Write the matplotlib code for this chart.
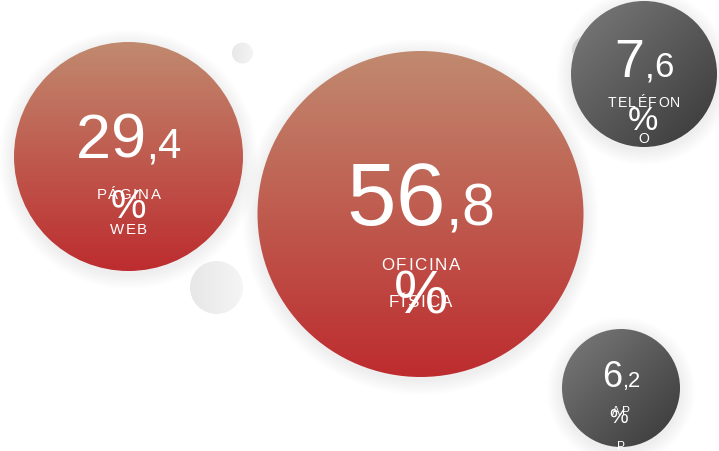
import numpy as np
import matplotlib
matplotlib.use("Agg")
import matplotlib.pyplot as plt
from matplotlib.patches import Circle
from matplotlib import font_manager
from matplotlib.ft2font import FT2Font

# datos
canales = ["PÁGINA WEB", "OFICINA FÍSICA", "TELÉFONO", "APP"]
porcentajes = [29.4, 56.8, 7.6, 6.2]
# como se parte la etiqueta dentro de cada burbuja
lineas = [["PÁGINA", "WEB"], ["OFICINA", "FÍSICA"], ["TELÉFON", "O"], ["AP", "P"]]

# disposicion (pixeles)
centros = [(128.5, 156.5), (420.5, 214), (644, 74), (621, 388)]
radios = [114.5, 163, 73, 59]
tipo = ["rojo", "rojo", "gris", "gris"]
px_entero = [63, 89, 54, 36]
px_decimal = [42, 59, 35, 22]
px_etiqueta = [15, 17, 14, 12]
px_pct = [40, 61, 34, 21]
# baselines relativas al centro: numero, linea1, linea2, %
dy_num = [1.5, 11, 3, -1]
dy_l1 = [42.5, 56, 33, 27]
dy_l2 = [77.5, 93, 69, 62]
dy_pct = [61.5, 99, 56, 35]
dx_pct = [0, 0.5, -1, -2]

decor = [(242.5, 53, 10.5), (216.5, 287.5, 26.5), (586, 50, 14)]

FUENTE = "Liberation Sans"
ft = FT2Font(font_manager.findfont(font_manager.FontProperties(family=FUENTE)))


def avances(txt, px):
    ft.set_size(px, 72)
    return [ft.load_char(ord(c)).linearHoriAdvance / 65536 for c in txt]


def texto_espaciado(ax, cx, y, partes, espacio=0.0):
    # partes: lista de (texto, px); se dibuja letra a letra
    letras = []
    for txt, px in partes:
        for c, a in zip(txt, avances(txt, px)):
            letras.append((c, px, a + espacio * px))
    total = sum(l[2] for l in letras) - (espacio * letras[-1][1] if espacio else 0)
    x = cx - total / 2
    for c, px, a in letras:
        adv = a - espacio * px
        ax.text(x + adv / 2, y, c, fontsize=px * 0.72, family=FUENTE,
                color="white", ha="center", va="baseline", zorder=5)
        x += a


def hex2rgb(h):
    return np.array([int(h[i:i + 2], 16) for i in (1, 3, 5)]) / 255


def gradiente(ax, cx, cy, r, c1, c2, modo, z):
    n = 256
    t = np.linspace(0, 1, n)
    if modo == "v":
        f = np.repeat(t[:, None], n, axis=1)
    elif modo == "h":
        f = np.repeat(t[None, :], n, axis=0)
    else:
        f = (t[:, None] + t[None, :]) / 2
    img = hex2rgb(c1) * (1 - f[..., None]) + hex2rgb(c2) * f[..., None]
    circ = Circle((cx, cy), r, transform=ax.transData, facecolor="none", edgecolor="none")
    ax.add_patch(circ)
    m = 3
    im = ax.imshow(img, extent=(cx - r - m, cx + r + m, cy + r + m, cy - r - m), origin="upper",
                   interpolation="bilinear", zorder=z)
    im.set_clip_path(circ)


fig = plt.figure(figsize=(7.19, 4.51), dpi=100)
ax = fig.add_axes([0, 0, 1, 1])
ax.set_axis_off()

for cx, cy, r in decor:
    gradiente(ax, cx, cy, r, "#e6e6e6", "#f6f6f6", "h", 1)

for i in range(len(canales)):
    cx, cy = centros[i]
    r = radios[i]
    # sombra suave
    for k in range(1, 18):
        ax.add_patch(Circle((cx, cy + 3), r + k * 0.9, color="black", alpha=0.0055,
                            lw=0, zorder=2))
    if tipo[i] == "rojo":
        gradiente(ax, cx, cy, r, "#c18b70", "#bd2b2e", "v", 3)
    else:
        gradiente(ax, cx, cy, r, "#7d7d7d", "#363636", "d", 3)

    entero, dec = f"{porcentajes[i]:.1f}".split(".")
    texto_espaciado(ax, cx, cy + dy_num[i], [(entero, px_entero[i]), ("," + dec, px_decimal[i])])
    texto_espaciado(ax, cx, cy + dy_l1[i], [(lineas[i][0], px_etiqueta[i])], 0.1)
    texto_espaciado(ax, cx, cy + dy_l2[i], [(lineas[i][1], px_etiqueta[i])], 0.1)
    texto_espaciado(ax, cx + dx_pct[i], cy + dy_pct[i], [("%", px_pct[i])])

ax.set_xlim(0, 719)
ax.set_ylim(451, 0)
ax.set_aspect("auto")
fig.savefig("out.png", dpi=100, facecolor="white")
